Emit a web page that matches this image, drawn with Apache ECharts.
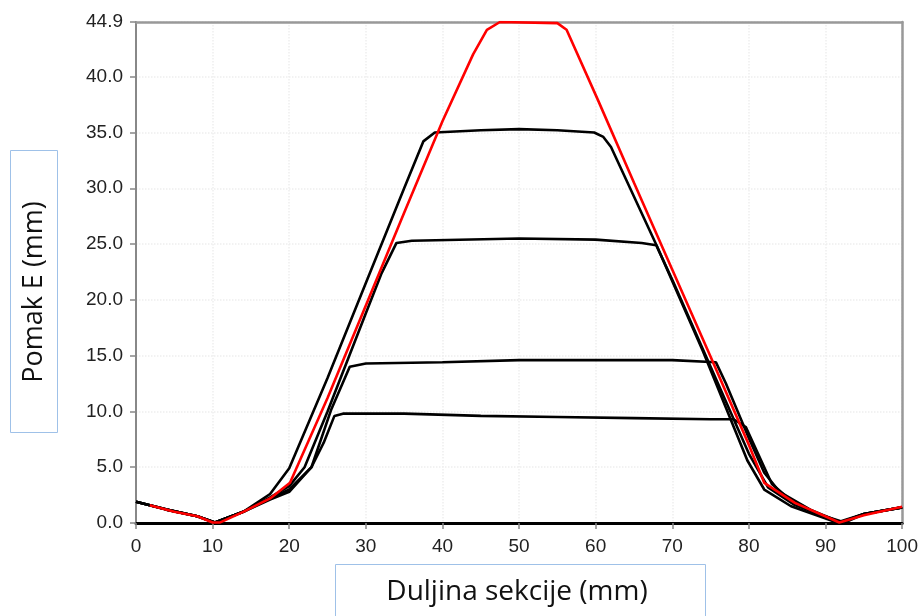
<!DOCTYPE html>
<html>
<head>
<meta charset="utf-8">
<script src="https://cdn.jsdelivr.net/npm/echarts@6/dist/echarts.min.js"></script>
<style>
html,body{margin:0;padding:0;background:#fff;}
#chart{width:921px;height:616px;}
</style>
</head>
<body>
<div id="chart"></div>
<script>
// Data (x in mm, y = Pomak E in mm)
const xTicks = [0, 10, 20, 30, 40, 50, 60, 70, 80, 90, 100];
const yTicks = [0, 5, 10, 15, 20, 25, 30, 35, 40, 44.9];

const curveA = [[0,1.9],[4,1.2],[8,0.6],[10.3,0.05],[14,1.0],[17.5,2.6],[20,4.9],[25,13.0],[30,21.5],[35,30.0],[37.5,34.2],[39,35.0],[45,35.2],[50,35.3],[55,35.2],[59.8,35.0],[61,34.6],[62,33.7],[68,24.8],[74,15.4],[79.8,5.6],[82,3.0],[85.5,1.5],[91.5,0.05],[95,0.8],[100,1.4]];
const curveB = [[0,1.9],[4,1.2],[8,0.6],[10.3,0.05],[14,1.0],[17.5,2.3],[20,3.3],[22,5.0],[25,10.0],[30,18.8],[32,22.3],[34,25.1],[36,25.3],[50,25.5],[60,25.4],[66,25.1],[67.9,24.9],[70,21.8],[75,14.0],[80,6.2],[82.5,3.2],[86,1.6],[92,0.05],[95,0.8],[100,1.4]];
const curveC = [[0,1.9],[4,1.2],[8,0.6],[10.3,0.05],[14,1.0],[17.5,2.2],[20,3.0],[22.9,5.0],[25.5,10.2],[27.9,14.0],[30,14.3],[40,14.4],[50,14.6],[60,14.6],[70,14.6],[75.7,14.4],[77,12.5],[80,7.6],[82,4.5],[84,2.8],[88,1.2],[92,0.05],[95,0.8],[100,1.4]];
const curveD = [[0,1.9],[4,1.2],[8,0.6],[10.3,0.05],[14,1.0],[17.5,2.1],[20,2.8],[22.9,5.0],[24.5,7.2],[25.9,9.6],[27,9.8],[35,9.8],[45,9.6],[55,9.5],[65,9.4],[75,9.3],[78,9.3],[79.6,8.6],[81,6.5],[83,3.5],[85,2.3],[89,0.8],[92.5,0.05],[95,0.8],[100,1.4]];
const curveRed = [[1.8,1.6],[5,1.0],[8,0.6],[10,0.05],[11,0.05],[14,1.0],[17.5,2.2],[20.1,3.6],[25,11.2],[30,19.5],[35,27.8],[40,36.0],[44,42.0],[45.8,44.2],[47.5,44.9],[55,44.8],[56.2,44.2],[60.3,37.9],[65,30.5],[70,22.7],[75,14.9],[80,7.0],[82,3.6],[86,1.8],[91.8,0.05],[95,0.7],[100,1.45]];

const chart = echarts.init(document.getElementById('chart'), null, {renderer:'canvas'});
const fontFam = '"Liberation Sans", Arial, sans-serif';
function blackSeries(d){
  return {type:'line', data:d, showSymbol:false, smooth:false,
    lineStyle:{color:'#000', width:2.6}, z:2, animation:false};
}
chart.setOption({
  animation:false,
  backgroundColor:'#fff',
  grid:{left:136, right:18, top:22, bottom:93},
  xAxis:[{type:'value', min:0, max:100, interval:10,
    axisLine:{show:true, onZero:false, lineStyle:{color:'#000', width:3}},
    axisTick:{show:true, length:6, lineStyle:{color:'#888', width:1.5}},
    axisLabel:{color:'#222', fontSize:19, fontFamily:fontFam, margin:14},
    splitLine:{show:true, lineStyle:{color:'#eee', type:'dotted', width:1.5}}
  },{type:'value', position:'top', min:0, max:100, interval:10,
    axisLine:{show:true, onZero:false, lineStyle:{color:'#999', width:2.5}},
    axisTick:{show:false}, axisLabel:{show:false}, splitLine:{show:false}
  }],
  yAxis:[{type:'value', min:0, max:44.9, interval:5,
    axisLine:{show:true, lineStyle:{color:'#888', width:2}},
    axisTick:{show:true, length:6, lineStyle:{color:'#888', width:1.5}},
    axisLabel:{color:'#222', fontSize:19, fontFamily:fontFam, margin:13,
      formatter:function(v){return Number(v).toFixed(1);}},
    splitLine:{show:true, lineStyle:{color:'#eee', type:'dotted', width:1.5}}
  },{type:'value', position:'right', min:0, max:44.9, interval:5,
    axisLine:{show:true, onZero:false, lineStyle:{color:'#999', width:2.5}},
    axisTick:{show:false}, axisLabel:{show:false}, splitLine:{show:false}
  }],
  series:[blackSeries(curveA), blackSeries(curveB), blackSeries(curveC), blackSeries(curveD),
    {type:'line', data:curveRed, showSymbol:false, lineStyle:{color:'#ff0000', width:2.6}, z:3, animation:false}
  ],
  graphic:[
    {type:'rect', left:10, top:150, shape:{width:47, height:282}, style:{fill:'#fff', stroke:'#9fc1e8', lineWidth:1}},
    {type:'text', x:34, y:292, rotation:Math.PI/2, style:{text:'Pomak E (mm)', font:'27px "Open Sans", "Noto Sans", sans-serif', fill:'#111', align:'center', verticalAlign:'middle'}},
    {type:'rect', left:335, top:564, shape:{width:370, height:60}, style:{fill:'#fff', stroke:'#9fc1e8', lineWidth:1}},
    {type:'text', x:517, y:592, style:{text:'Duljina sekcije (mm)', font:'28px "Open Sans", "Noto Sans", sans-serif', fill:'#111', align:'center', verticalAlign:'middle'}}
  ]
});
</script>
</body>
</html>
